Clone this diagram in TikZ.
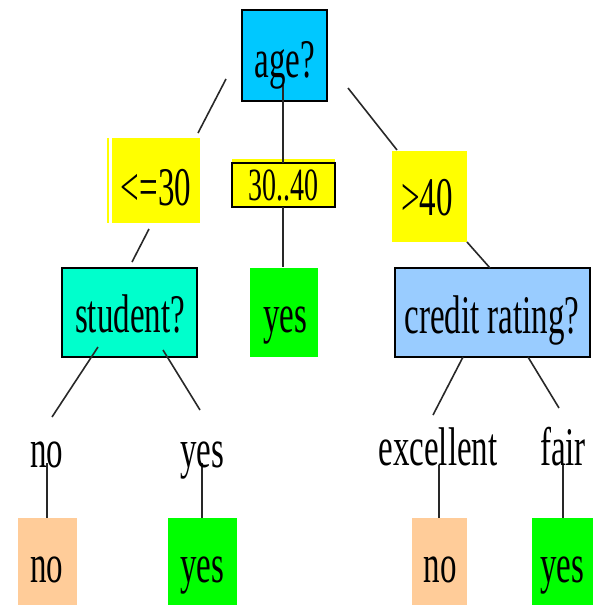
\documentclass[tikz,border=0pt]{standalone}
\usepackage{graphicx}
\usepackage{fontspec}
\setmainfont{Liberation Serif}
\definecolor{agecol}{RGB}{0,200,255}
\definecolor{stucol}{RGB}{0,255,204}
\definecolor{credcol}{RGB}{153,204,255}
\definecolor{yel}{RGB}{255,255,0}
\definecolor{grn}{RGB}{0,255,0}
\definecolor{peach}{RGB}{255,204,153}
\definecolor{ln}{RGB}{40,40,40}
\newcommand\tallt[1]{\scalebox{1}[1.65]{#1}}
\tikzset{
  box/.style={draw=black, line width=2pt, inner sep=0pt},
  plain/.style={draw=none, inner sep=0pt},
  txt/.style={anchor=base, inner sep=0pt, font=\fontsize{33}{33}\selectfont},
  conn/.style={draw=ln, line width=1.6pt}
}
\begin{document}
\begin{tikzpicture}[x=1pt,y=-1pt]
\useasboundingbox (0,0) rectangle (592,605);
% boxes
\node[box, fill=agecol, minimum width=85, minimum height=91] (age) at (284.5,55.5) {};
\node[plain, fill=yel, minimum width=88, minimum height=85] (le30) at (156,180.5) {};
\draw[yel, line width=1.5pt] (le30.north west) ++(-4,0) coordinate (yl1) -- ++(0,85) coordinate (yl2);
\fill[yel] (232,159) rectangle (335,207);
\node[box, fill=yel, minimum width=103, minimum height=44] (mid) at (283.5,185) {};
\node[plain, fill=yel, minimum width=75, minimum height=91] (gt40) at (429.5,196.5) {};
\node[box, fill=stucol, minimum width=135, minimum height=89] (stu) at (129.5,312.5) {};
\node[plain, fill=grn, minimum width=68, minimum height=89] (yesmid) at (283.5,312.5) {};
\node[box, fill=credcol, minimum width=195, minimum height=89] (cred) at (492.5,312.5) {};
\node[plain, fill=peach, minimum width=59, minimum height=88] (noL) at (47.5,561.5) {};
\node[plain, fill=grn, minimum width=69, minimum height=88] (yesL) at (202.5,561.5) {};
\node[plain, fill=peach, minimum width=55, minimum height=88] (noR) at (439.5,561.5) {};
\node[plain, fill=grn, minimum width=61, minimum height=88] (yesR) at (562.5,561.5) {};
% connector ends
\coordinate (a1) at (226,79);   \coordinate (a2) at (198,133);
\coordinate (b1) at (283,85);   \coordinate (b2) at (283,163);
\coordinate (c1) at (348,88);   \coordinate (c2) at (397,150);
\coordinate (d1) at (283,207);  \coordinate (d2) at (283,267);
\coordinate (e1) at (149,229);  \coordinate (e2) at (132,262);
\coordinate (f1) at (467,242);  \coordinate (f2) at (490,268);
\coordinate (g1) at (98,347);   \coordinate (g2) at (52,417);
\coordinate (h1) at (163,350);  \coordinate (h2) at (200,410);
\coordinate (i1) at (47,463);   \coordinate (i2) at (47,518);
\coordinate (j1) at (202,463);  \coordinate (j2) at (202,518);
\coordinate (k1) at (463,357);  \coordinate (k2) at (433,415);
\coordinate (l1) at (528,357);  \coordinate (l2) at (559,408);
\coordinate (m1) at (439,465);  \coordinate (m2) at (439,518);
\coordinate (n1) at (563,465);  \coordinate (n2) at (563,518);
\foreach \p in {a,b,c,d,e,f,g,h,i,j,k,l,m,n}{\draw[conn] (\p1) -- (\p2);}
% texts
\node[txt] (tage) at (285,77) {\tallt{age?}};
\node[txt] (tle30) at (156,205) {\tallt{<=30}};
\node[txt, font=\fontsize{28}{28}\selectfont] (tmid) at (283,200) {\tallt{30..40}};
\node[txt] (tgt40) at (427,215) {\tallt{>40}};
\node[txt] (tstu) at (130,332) {\tallt{student?}};
\node[txt] (tyesmid) at (285,332) {\tallt{yes}};
\node[txt] (tcred) at (492,333) {\tallt{credit rating?}};
\node[txt] (lno) at (47,467) {\tallt{no}};
\node[txt] (lyes) at (202,467) {\tallt{yes}};
\node[txt] (lexc) at (438,465) {\tallt{excellent}};
\node[txt] (lfair) at (563,465) {\tallt{fair}};
\node[txt] (tnoL) at (47,582) {\tallt{no}};
\node[txt] (tyesL) at (202,582) {\tallt{yes}};
\node[txt] (tnoR) at (440,582) {\tallt{no}};
\node[txt] (tyesR) at (562,582) {\tallt{yes}};
\end{tikzpicture}
\end{document}
